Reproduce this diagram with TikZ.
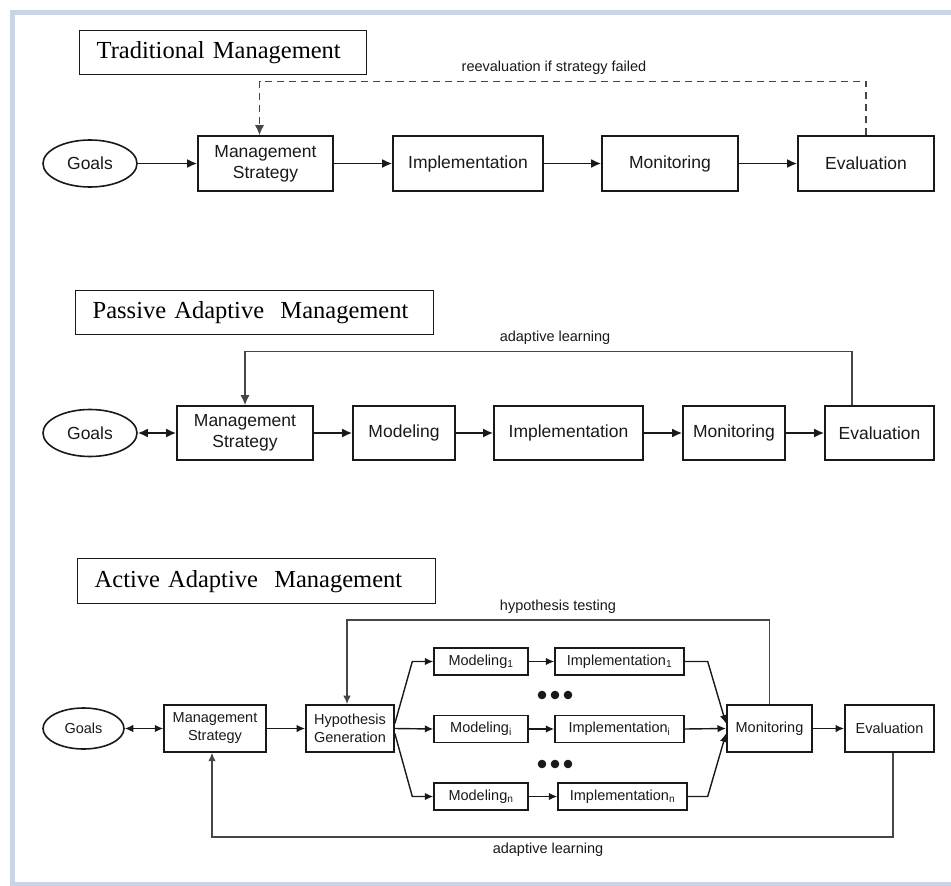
\documentclass[tikz,border=0pt]{standalone}
\usepackage{fontspec}
\setmainfont{Liberation Sans}
\newfontfamily\titlefont{Liberation Serif}
\usepackage{tikz}
\usetikzlibrary{arrows.meta,shapes.geometric}
\definecolor{framec}{RGB}{200,212,232}
\definecolor{ink}{RGB}{25,25,25}
\definecolor{fbline}{RGB}{70,70,70}

\begin{document}
\begin{tikzpicture}[x=1pt,y=-1pt,
  >={Latex[length=10pt,width=9pt]},
  box/.style={draw=ink, line width=1.6pt, text=ink, align=center, inner sep=0pt, font=\fontsize{17.5}{21}\selectfont},
  sbox/.style={box, line width=1.4pt, font=\fontsize{14.5}{18}\selectfont},
  goal/.style={ellipse, draw=ink, line width=1.6pt, text=ink, inner sep=0pt, font=\fontsize{17.5}{21}\selectfont},
  ttl/.style={draw=ink, line width=1.4pt, anchor=north west, inner xsep=17pt, inner ysep=0pt, minimum height=44pt, align=left, text=black, font=\titlefont\fontsize{24.5}{26}\selectfont},
  lbl/.style={text=ink, inner sep=0pt, font=\fontsize{14.5}{16}\selectfont},
  flow/.style={->, line width=1.9pt, draw=ink},
  fback/.style={->, line width=1.3pt, draw=fbline}]
  \useasboundingbox (0,0) rectangle (951,886);

  % 枠
  \draw[framec, line width=5pt] (951,12.5) -- (12.5,12.5) -- (12.5,886);
  \draw[framec, line width=4pt] (10,884) -- (951,884);

  % 伝統的管理
  \node[ttl, text width=253pt] (t1) at (79,30) {Traditional Management};
  \node[goal, minimum width=94pt, minimum height=47pt] (g1) at (90,163.5) {Goals};
  \node[box, minimum width=135pt, minimum height=55pt] (ms1) at (265.5,163.5) {Management\\Strategy};
  \node[box, minimum width=150pt, minimum height=55pt] (im1) at (468,163.5) {Implementation};
  \node[box, minimum width=136pt, minimum height=55pt] (mo1) at (670,163.5) {Monitoring};
  \node[box, minimum width=136pt, minimum height=55pt] (ev1) at (866,163.5) {Evaluation};
  \draw[flow] (g1) -- (ms1);
  \draw[flow] (ms1) -- (im1);
  \draw[flow] (im1) -- (mo1);
  \draw[flow] (mo1) -- (ev1);
  \draw[fback, dash pattern=on 7pt off 5pt] (ev1.north) -- ++(0,-54) -| ([xshift=-6pt]ms1.north);
  \node[lbl] (lb1) at (554,68) {reevaluation if strategy failed};

  % 受動的順応的管理
  \node[ttl, text width=324pt] (t2) at (75,290) {Passive Adaptive\ \ Management};
  \node[goal, minimum width=94pt, minimum height=47pt] (g2) at (90,433) {Goals};
  \node[box, minimum width=136pt, minimum height=54pt] (ms2) at (245,433) {Management\\Strategy};
  \node[box, minimum width=102pt, minimum height=54pt] (md2) at (404,433) {Modeling};
  \node[box, minimum width=149pt, minimum height=54pt] (im2) at (568.5,433) {Implementation};
  \node[box, minimum width=102pt, minimum height=54pt] (mo2) at (734,433) {Monitoring};
  \node[box, minimum width=109pt, minimum height=54pt] (ev2) at (879.5,433) {Evaluation};
  \draw[flow, <->] (g2) -- (ms2);
  \draw[flow] (ms2) -- (md2);
  \draw[flow] (md2) -- (im2);
  \draw[flow] (im2) -- (mo2);
  \draw[flow] (mo2) -- (ev2);
  \draw[fback] ([xshift=-27.5pt]ev2.north) -- ++(0,-54) -| (ms2.north);
  \node[lbl] (lb2) at (555,338) {adaptive learning};

  % 能動的順応的管理
  \begin{scope}[>={Latex[length=8.5pt,width=7.5pt]}, flow/.style={->, line width=1.4pt, draw=ink}]
  \node[ttl, text width=324pt, minimum height=45pt] (t3) at (77,558) {Active Adaptive\ \ Management};
  \node[goal, minimum width=81pt, minimum height=41pt, font=\fontsize{14.5}{18}\selectfont] (g3) at (83.5,728.5) {Goals};
  \node[sbox, minimum width=102pt, minimum height=47pt] (ms3) at (215,728.5) {Management\\Strategy};
  \node[sbox, line width=1.7pt, minimum width=88pt, minimum height=47pt] (hg) at (350,728.5) {Hypothesis\\Generation};
  \node[sbox, line width=2pt, minimum width=85pt, minimum height=47pt] (mo3) at (769.5,728.5) {Monitoring};
  \node[sbox, line width=1.7pt, minimum width=89pt, minimum height=47pt] (ev3) at (889.5,728.5) {Evaluation};
  \foreach \k/\yy/\ix in {1/661.5/619.5, i/729/619.5, n/796.5/622.5} {
    \node[sbox, minimum width=94pt, minimum height=27pt] (md3\k) at (481,\yy) {Modeling\textsubscript{\k}};
    \node[sbox, minimum width=129pt, minimum height=27pt] (im3\k) at (\ix,\yy) {Implementation\textsubscript{\k}};
    \draw[flow] (md3\k) -- (im3\k);
  }
  \foreach \yy in {695,764}
    \foreach \xx in {542,555,568}
      \fill[ink] (\xx,\yy) circle (4.3pt);

  \draw[flow, <->] (g3) -- (ms3);
  \draw[flow] (ms3) -- (hg);
  \draw[flow] ([yshift=5pt]hg.east) -- ([xshift=-21pt]md31.west) -- (md31.west);
  \draw[flow] (hg.east) -- (md3i.west);
  \draw[flow] ([yshift=-5pt]hg.east) -- ([xshift=-21pt]md3n.west) -- (md3n.west);
  \draw[flow] (im31.east) -- ([xshift=23pt]im31.east) -- ([yshift=5pt]mo3.west);
  \draw[flow] (im3i.east) -- (mo3.west);
  \draw[flow] (im3n.east) -- ([xshift=20pt]im3n.east) -- ([yshift=-5pt]mo3.west);
  \draw[flow] (mo3) -- (ev3);
  \draw[fback] (mo3.north) -- ++(0,-84) -| ([xshift=-3pt]hg.north);
  \draw[fback] ([xshift=3.5pt]ev3.south) -- ++(0,84) -| ([xshift=-3pt]ms3.south);
  \node[lbl] (lb3) at (558,607) {hypothesis testing};
  \node[lbl] (lb4) at (548,850) {adaptive learning};
  \end{scope}
\end{tikzpicture}
\end{document}
